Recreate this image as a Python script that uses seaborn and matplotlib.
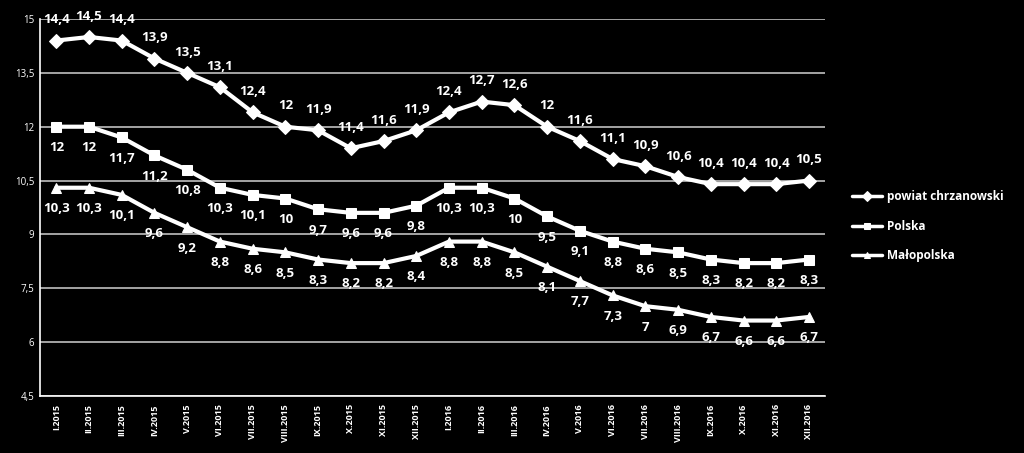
import matplotlib
matplotlib.use("Agg")
import matplotlib.pyplot as plt
import seaborn as sns
import pandas as pd
import numpy as np

months = ["I.2015", "II.2015", "III.2015", "IV.2015", "V.2015", "VI.2015", "VII.2015",
          "VIII.2015", "IX.2015", "X.2015", "XI.2015", "XII.2015",
          "I.2016", "II.2016", "III.2016", "IV.2016", "V.2016", "VI.2016", "VII.2016",
          "VIII.2016", "IX.2016", "X.2016", "XI.2016", "XII.2016"]
powiat = [14.4, 14.5, 14.4, 13.9, 13.5, 13.1, 12.4, 12, 11.9, 11.4, 11.6, 11.9,
          12.4, 12.7, 12.6, 12, 11.6, 11.1, 10.9, 10.6, 10.4, 10.4, 10.4, 10.5]
polska = [12, 12, 11.7, 11.2, 10.8, 10.3, 10.1, 10, 9.7, 9.6, 9.6, 9.8,
          10.3, 10.3, 10, 9.5, 9.1, 8.8, 8.6, 8.5, 8.3, 8.2, 8.2, 8.3]
malopolska = [10.3, 10.3, 10.1, 9.6, 9.2, 8.8, 8.6, 8.5, 8.3, 8.2, 8.2, 8.4,
              8.8, 8.8, 8.5, 8.1, 7.7, 7.3, 7, 6.9, 6.7, 6.6, 6.6, 6.7]
series_names = ["powiat chrzanowski", "Polska", "Małopolska"]
yticks = [4.5, 6, 7.5, 9, 10.5, 12, 13.5, 15]

sns.set_theme(style="dark")
plt.rcParams['font.family'] = ['Open Sans', 'DejaVu Sans']

rows = []
for name, vals in zip(series_names, [powiat, polska, malopolska]):
    for i, v in enumerate(vals):
        rows.append({"idx": i, "value": v, "series": name})
df = pd.DataFrame(rows)

fig = plt.figure(figsize=(10.24, 4.53), dpi=100, facecolor="black")
ax = fig.add_axes([0.039, 0.126, 0.767, 0.832])
ax.set_facecolor("black")

sns.lineplot(data=df, x="idx", y="value", hue="series", style="series",
             hue_order=series_names, style_order=series_names,
             palette={n: "white" for n in series_names},
             markers={"powiat chrzanowski": "D", "Polska": "s", "Małopolska": "^"},
             dashes=False, linewidth=3, markersize=7, markeredgecolor="white",
             ax=ax, legend=True)

ax.set_xlim(-0.5, len(months) - 0.5)
ax.set_ylim(4.5, 15)
ax.set_yticks(yticks)
ax.set_yticklabels([str(t).replace(".0", "").replace(".", ",") for t in yticks],
                   color="white", fontsize=7)
ax.set_xticks(range(len(months)))
ax.set_xticklabels(months, rotation=90, color="white", fontsize=6.5, fontweight="bold")
ax.tick_params(axis="x", length=0, pad=6)
ax.tick_params(axis="y", length=4, color="white", direction="in", pad=4)
ax.set_xticks(np.arange(-0.5, len(months), 1), minor=True)
ax.tick_params(axis="x", which="minor", length=5, color="white", direction="out")
ax.set_xlabel("")
ax.set_ylabel("")
ax.grid(axis="y", color="#bfbfbf", linewidth=1.2)
ax.grid(axis="x", visible=False)
for s in ["top", "right"]:
    ax.spines[s].set_visible(False)
for s in ["left", "bottom"]:
    ax.spines[s].set_visible(True)
    ax.spines[s].set_color("white")
    ax.spines[s].set_linewidth(1.2)

def fmt(v):
    return ("%g" % v).replace(".", ",")

offsets = {"powiat chrzanowski": 15, "Polska": -15, "Małopolska": -15}
for name, vals in zip(series_names, [powiat, polska, malopolska]):
    for i, v in enumerate(vals):
        ax.annotate(fmt(v), (i, v), xytext=(0, offsets[name]), textcoords="offset points",
                    ha="center", va="center", color="white", fontsize=9.5,
                    fontweight="bold", annotation_clip=False)

leg = ax.legend(loc="center left", bbox_to_anchor=(1.02, 0.45), frameon=False,
                fontsize=8.5, labelspacing=1.4, handlelength=2.6, handletextpad=0.4,
                markerscale=0.7)
for t in leg.get_texts():
    t.set_color("white")
    t.set_fontweight("bold")
for h in leg.get_lines():
    h.set_linewidth(2.5)

fig.savefig("out.png", dpi=100, facecolor="black")
